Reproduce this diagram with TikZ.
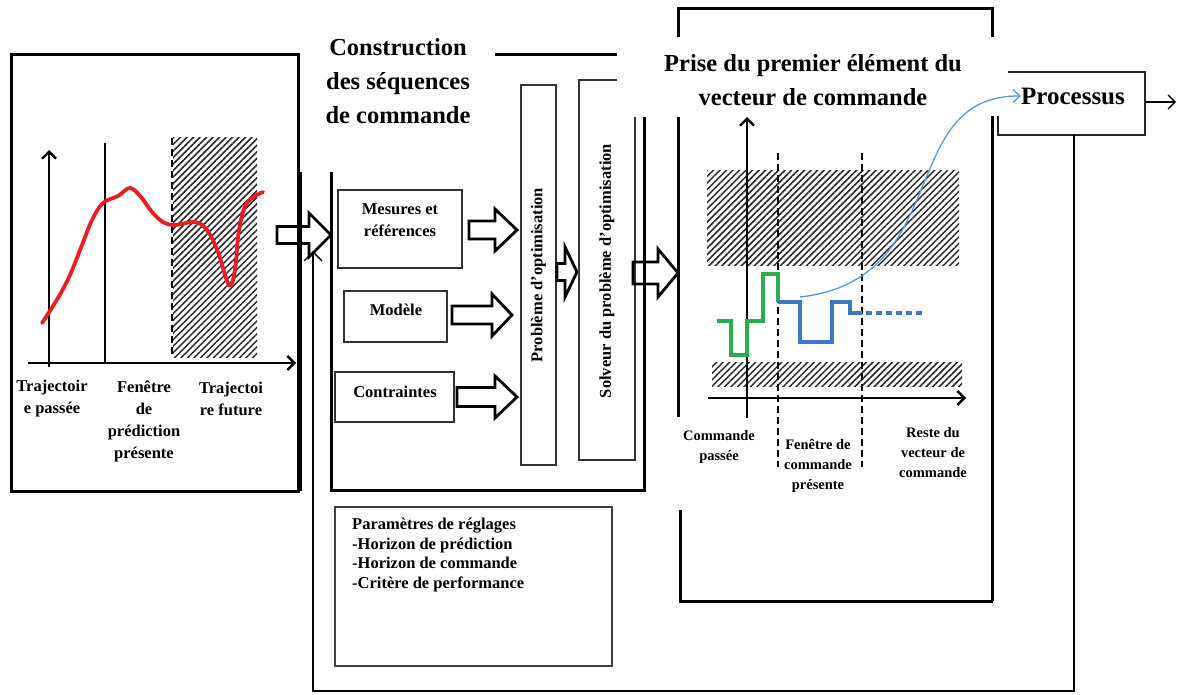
\documentclass[tikz,border=0pt]{standalone}
\usepackage{fontspec}
\setmainfont{Liberation Serif}
\usetikzlibrary{arrows.meta,patterns.meta}
\definecolor{myred}{RGB}{232,30,37}
\definecolor{mygreen}{RGB}{40,175,75}
\definecolor{myblue}{RGB}{60,120,195}
\definecolor{lightblue}{RGB}{95,150,220}
\newcommand{\myblockarrow}[6]{\draw[blockarr] (#1,#4-#5) -- (#3,#4-#5) -- (#3,#4-#6) -- (#2,#4) -- (#3,#4+#6) -- (#3,#4+#5) -- (#1,#4+#5) -- cycle;}
\tikzset{
  frame/.style={line width=3pt},
  thinframe/.style={line width=1.3pt},
  box/.style={draw=black!80,line width=1.4pt},
  blockarr/.style={line width=2.8pt,line join=miter},
  axis/.style={line width=2.6pt,-{Straight Barb[length=7pt,width=14pt,line width=2.4pt]}},
  hatch/.style={pattern={Lines[angle=45,distance=4.6pt,line width=1.5pt]},pattern color=black!85},
  dashv/.style={line width=2.5pt,dash pattern=on 7pt off 4pt},
  lab/.style={font=\bfseries\fontsize{16.5}{22}\selectfont,align=center,inner sep=0pt},
  slab/.style={font=\bfseries\fontsize{14.5}{20}\selectfont,align=center,inner sep=0pt},
  title/.style={font=\bfseries\fontsize{24.5}{34}\selectfont,align=center,inner sep=0pt},
  thinarrow/.style={line width=1.3pt,-{Straight Barb[length=7pt,width=14pt,line width=1.3pt]}}
}
\begin{document}
\begin{tikzpicture}[x=1pt,y=-1pt]
\useasboundingbox (0,0) rectangle (1177,695);
% ---------------- left panel ----------------
\draw[frame] (11,55) rectangle (298,491);
\draw[frame] (300,172) -- (300,491);
\fill[hatch] (173,138) rectangle (257,357);
\draw[dashv] (172,138) -- (172,357);
\draw[line width=1.3pt] (105,143) -- (105,363);
\draw[axis] (49,367) -- (49,150);
\draw[axis] (28,363) -- (296,363);
\draw[myred,line width=3.8pt,line cap=round] plot[smooth,tension=0.6] coordinates {(42,323) (58,298) (70,275) (82,245) (92,220) (103,203) (118,196) (130,188) (141,197) (152,212) (163,222) (175,225) (195,222) (207,230) (218,252) (229,285) (235,270) (239,230) (247,203) (263,192)};
\node[lab] (l1) at (52,399) {Trajectoir\\e passée};
\node[lab] (l2) at (144,421) {Fenêtre\\de\\prédiction\\présente};
\node[lab] (l3) at (231,399) {Trajectoi\\re future};
% ---------------- middle panel ----------------
\node[title] (t1) at (398,81) {Construction\\des séquences\\de commande};
\draw[frame] (495,55) -- (617,55);
\draw[frame] (331,172) -- (331,490) -- (644,490) -- (644,117);
\node[box,minimum width=124pt,minimum height=78pt] (mes) at (400,229) {};
\node[lab] (mest) at (400,220) {Mesures et\\références};
\node[box,minimum width=103pt,minimum height=51pt] (mod) at (395.5,316.5) {};
\node[lab] (modt) at (396,310) {Modèle};
\node[box,minimum width=119pt,minimum height=50pt] (con) at (394.5,397) {};
\node[lab] (cont) at (395,392) {Contraintes};
\draw[box] (521,85) rectangle (556,465);
\node[lab,rotate=90] (prob) at (538.5,275) {Problème d'optimisation};
\draw[box] (617,80) -- (579,80) -- (579,460) -- (635,460) -- (635,117);
\node[lab,rotate=90] (solv) at (607,271) {Solveur du problème d'optimisation};
\draw[box,draw=black!75] (335,507) rectangle (612,666);
\node[font=\bfseries\fontsize{16.5}{19.6}\selectfont,align=left,inner sep=0pt,anchor=west] (par) at (352,555) {Paramètres de réglages\\-Horizon de prédiction\\-Horizon de commande\\-Critère de performance};
% block arrows
\myblockarrow{277}{331}{309}{235}{8.5}{22}
\myblockarrow{469}{517}{495}{230}{9}{21}
\myblockarrow{452}{512}{492}{315}{9}{21}
\myblockarrow{457}{517}{495}{397}{9.5}{21}
\myblockarrow{557}{577}{565}{272}{8.5}{25}
\myblockarrow{633}{678}{658}{273}{11}{24}
% ---------------- right panel ----------------
\draw[frame] (678,37) -- (678,9) -- (992,9) -- (992,37);
\draw[frame] (678,117) -- (678,417);
\draw[frame] (680,510) -- (680,601) -- (993,601);
\draw[frame] (992,116) -- (992,601);
\node[title] (t2) at (813,80) {Prise du premier élément du\\vecteur de commande};
\fill[hatch] (707,171) rectangle (959,265);
\fill[hatch] (712,362) rectangle (962,386);
\draw[dashv] (778,153) -- (778,467);
\draw[dashv] (862,153) -- (862,467);
\draw[axis] (747,418) -- (747,117);
\draw[axis] (708,398) -- (966,398);
\draw[mygreen,line width=3.2pt] (717,321) -- (731,321) -- (731,355) -- (747,355) -- (747,321) -- (763,321) -- (763,274) -- (778,274) -- (778,302);
\draw[myblue,line width=3.6pt] (778,302) -- (800,302) -- (800,342) -- (832,342) -- (832,302) -- (850,302) -- (850,313) -- (862,313);
\draw[myblue,line width=3.6pt,dash pattern=on 6pt off 4pt] (866,313) -- (922,313);
\node[slab] (r1) at (719,447) {Commande\\passée};
\node[slab] (r2) at (818,466) {Fenêtre de\\commande\\présente};
\node[slab] (r3) at (933,453) {Reste du\\vecteur de\\commande};
% Processus
\draw[line width=1.3pt,draw=black!85] (1008,72) -- (1145,72) -- (1145,135) -- (998,135) -- (998,116);
\node[title,font=\bfseries\fontsize{25}{30}\selectfont] (proc) at (1073,96) {Processus};
\coordinate (procS) at (1074,135);
\coordinate (fbA) at (1074,691);
\coordinate (fbB) at (313,691);
\coordinate (fbC) at (313,251);
\draw[line width=1.4pt,-{Straight Barb[length=9pt,width=18pt,line width=1.4pt]}] (procS) -- (fbA) -- (fbB) -- (fbC);
\coordinate (outS) at (1145,102);
\coordinate (outE) at (1176,102);
\draw[thinarrow] (outS) -- (outE);
\coordinate (bs) at (800,297);
\draw[lightblue,line width=1.3pt,-{Straight Barb[length=7pt,width=13pt,line width=1.3pt]}] (bs) .. controls (955,280) and (895,95) .. (proc.west);
\end{tikzpicture}
\end{document}
